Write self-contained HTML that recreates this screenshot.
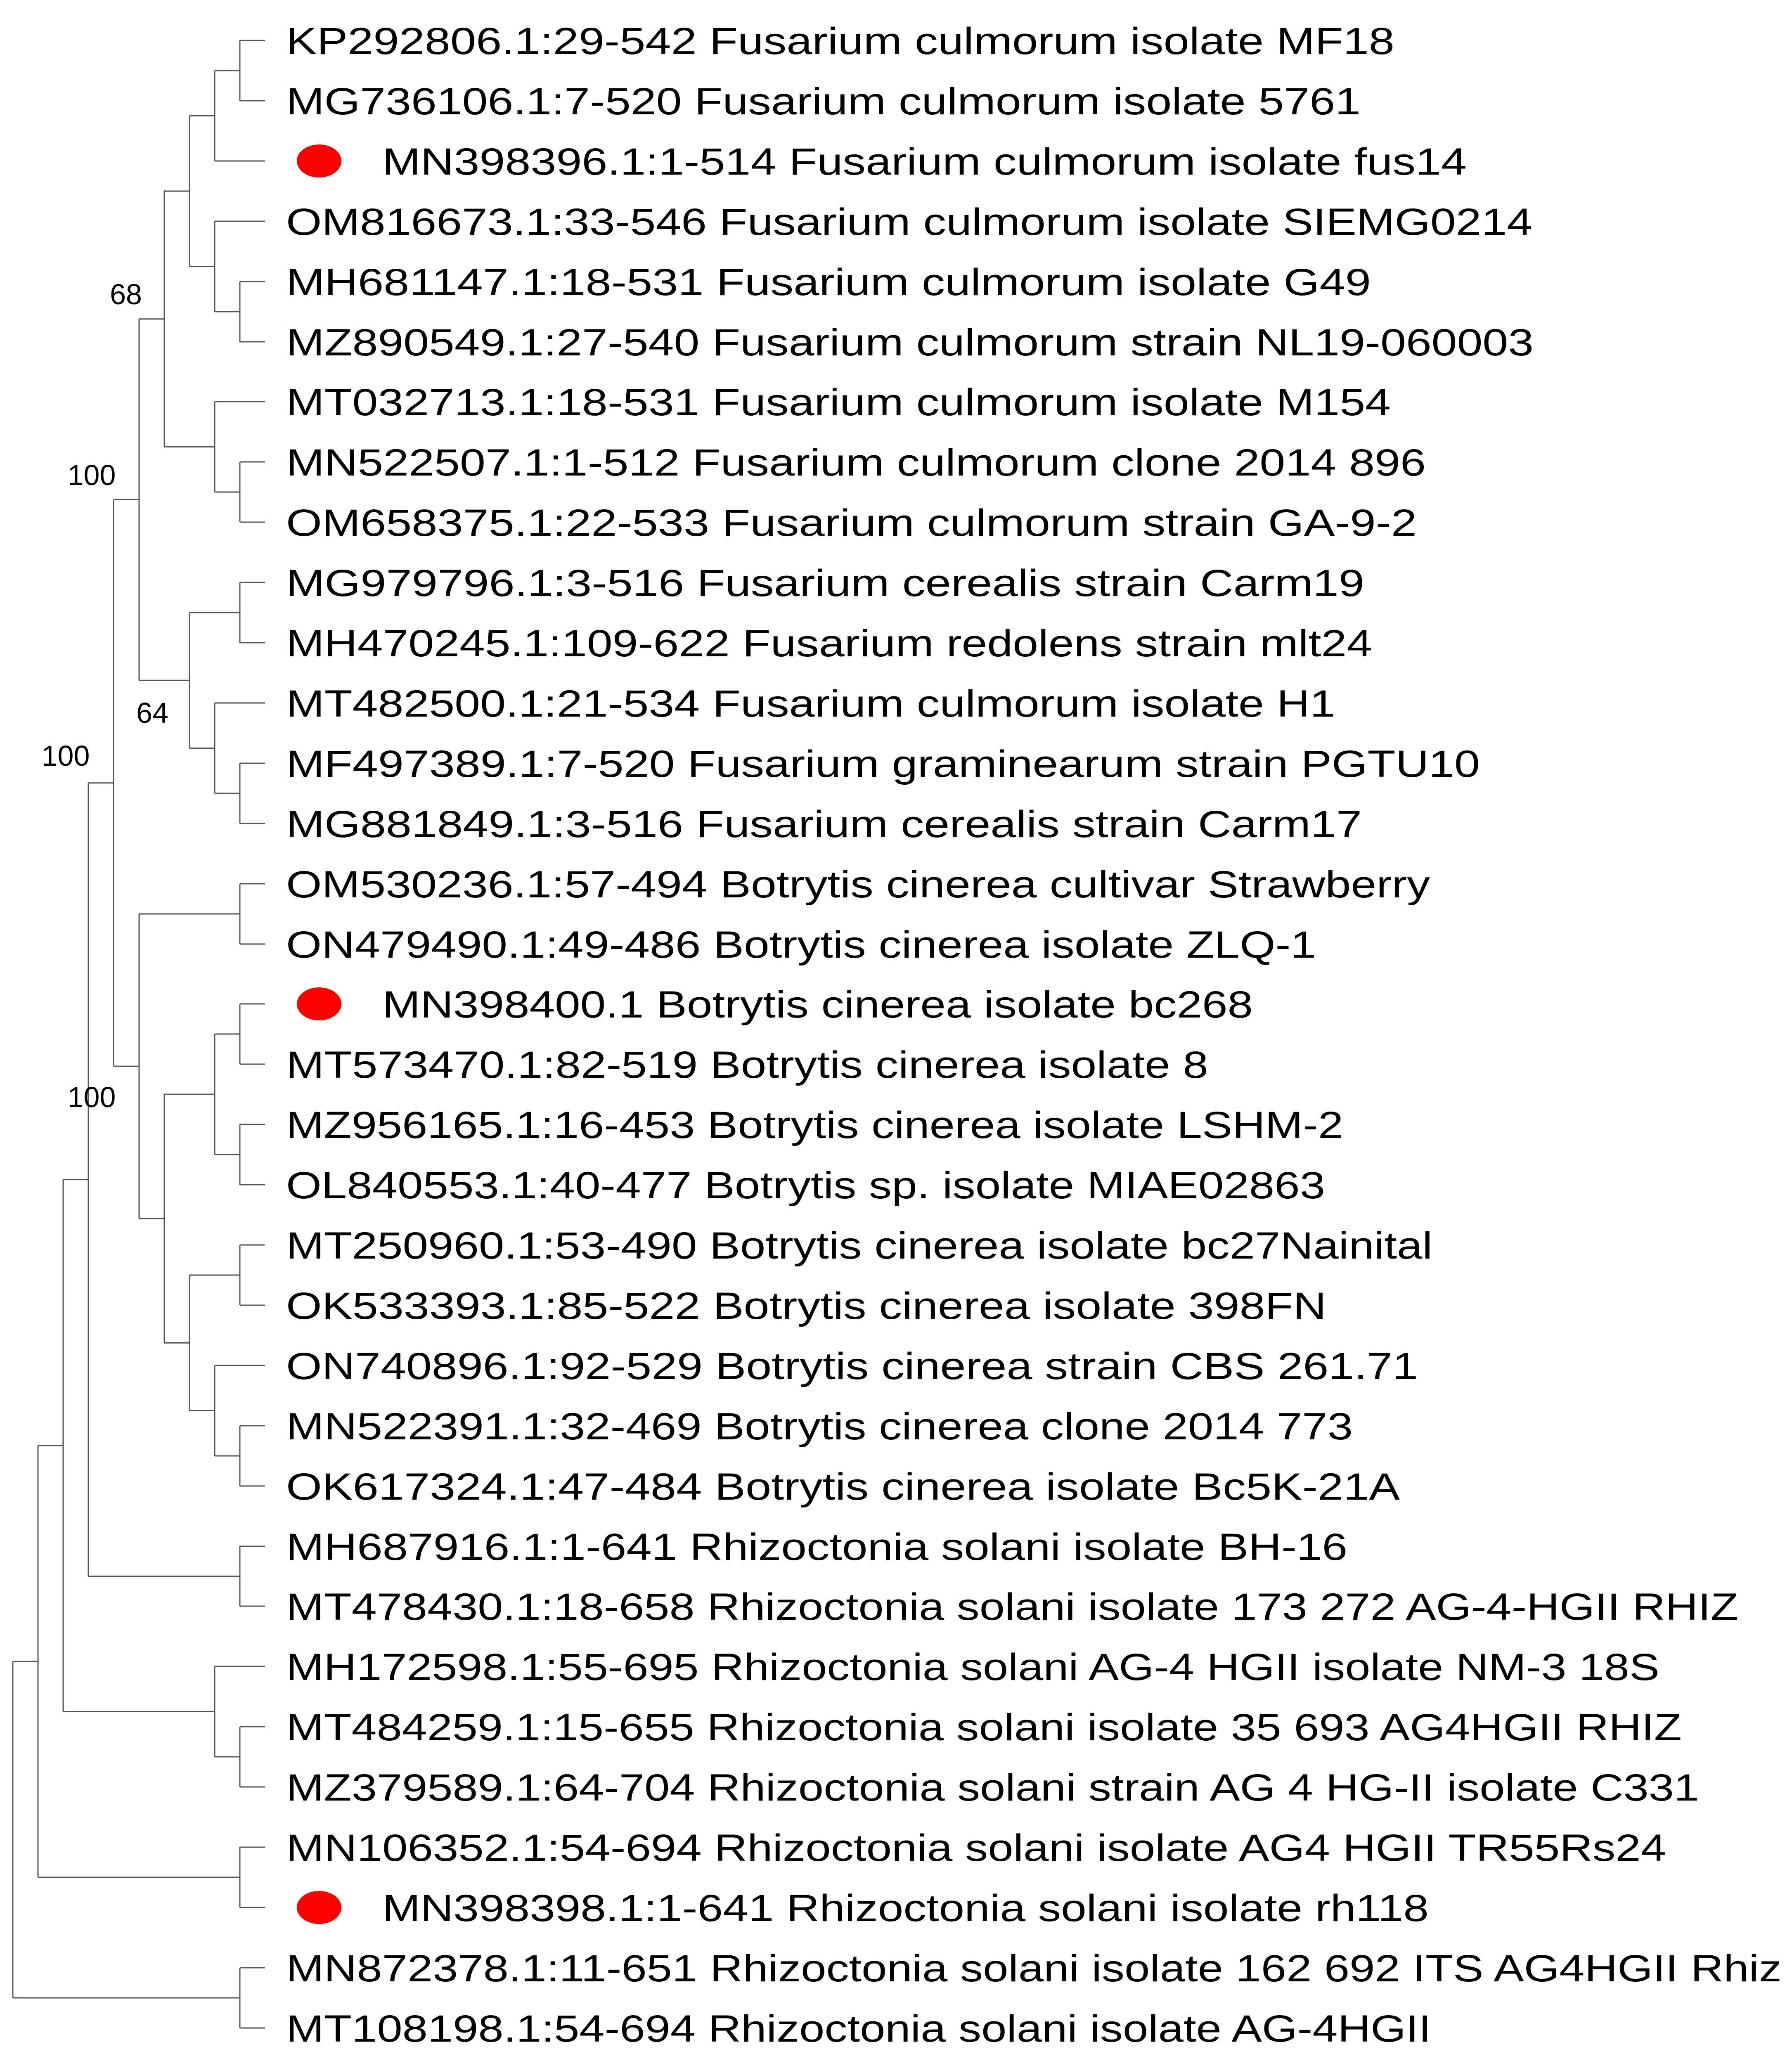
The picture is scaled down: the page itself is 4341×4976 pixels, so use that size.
<!DOCTYPE html>
<html><head><meta charset="utf-8"><style>
html,body{margin:0;padding:0;background:#fff;}
svg{display:block;}
text{font-family:"Liberation Sans",Arial,sans-serif;fill:#000;}
.l{font-size:92px;}
.b{font-size:70px;text-anchor:middle;}
line{stroke:#555;stroke-width:3;}
</style></head><body>
<svg width="4341" height="4976" viewBox="0 0 4341 4976" xmlns="http://www.w3.org/2000/svg">
<g>
<!-- A (0,1) L1 -->
<line x1="581" y1="98" x2="581" y2="244"/><line x1="581" y1="98" x2="642" y2="98"/><line x1="581" y1="244" x2="642" y2="244"/>
<!-- B (A,2) L2 -->
<line x1="520" y1="171" x2="520" y2="390"/><line x1="520" y1="171" x2="581" y2="171"/><line x1="520" y1="390" x2="642" y2="390"/>
<!-- C (4,5) L1 -->
<line x1="581" y1="682" x2="581" y2="828"/><line x1="581" y1="682" x2="642" y2="682"/><line x1="581" y1="828" x2="642" y2="828"/>
<!-- D (3,C) L2 -->
<line x1="520" y1="536" x2="520" y2="755"/><line x1="520" y1="536" x2="642" y2="536"/><line x1="520" y1="755" x2="581" y2="755"/>
<!-- E (B,D) L3 -->
<line x1="459" y1="280.5" x2="459" y2="645.5"/><line x1="459" y1="280.5" x2="520" y2="280.5"/><line x1="459" y1="645.5" x2="520" y2="645.5"/>
<!-- F (7,8) L1 -->
<line x1="581" y1="1119" x2="581" y2="1265"/><line x1="581" y1="1119" x2="642" y2="1119"/><line x1="581" y1="1265" x2="642" y2="1265"/>
<!-- G (6,F) L2 -->
<line x1="520" y1="973" x2="520" y2="1192"/><line x1="520" y1="973" x2="642" y2="973"/><line x1="520" y1="1192" x2="581" y2="1192"/>
<!-- H (E,G) L4 -->
<line x1="398" y1="463" x2="398" y2="1082.5"/><line x1="398" y1="463" x2="459" y2="463"/><line x1="398" y1="1082.5" x2="520" y2="1082.5"/>
<!-- I (9,10) L1 -->
<line x1="581" y1="1411" x2="581" y2="1557"/><line x1="581" y1="1411" x2="642" y2="1411"/><line x1="581" y1="1557" x2="642" y2="1557"/>
<!-- J (12,13) L1 -->
<line x1="581" y1="1849" x2="581" y2="1995"/><line x1="581" y1="1849" x2="642" y2="1849"/><line x1="581" y1="1995" x2="642" y2="1995"/>
<!-- K (11,J) L2 -->
<line x1="520" y1="1703" x2="520" y2="1922"/><line x1="520" y1="1703" x2="642" y2="1703"/><line x1="520" y1="1922" x2="581" y2="1922"/>
<!-- L (I,K) L3 -->
<line x1="459" y1="1484" x2="459" y2="1812.5"/><line x1="459" y1="1484" x2="581" y2="1484"/><line x1="459" y1="1812.5" x2="520" y2="1812.5"/>
<!-- M (H,L) L5 -->
<line x1="337" y1="772.75" x2="337" y2="1648.25"/><line x1="337" y1="772.75" x2="398" y2="772.75"/><line x1="337" y1="1648.25" x2="459" y2="1648.25"/>
<!-- N (14,15) L1 -->
<line x1="581" y1="2141" x2="581" y2="2287"/><line x1="581" y1="2141" x2="642" y2="2141"/><line x1="581" y1="2287" x2="642" y2="2287"/>
<!-- O (16,17) -->
<line x1="581" y1="2432" x2="581" y2="2578"/><line x1="581" y1="2432" x2="642" y2="2432"/><line x1="581" y1="2578" x2="642" y2="2578"/>
<!-- P (18,19) -->
<line x1="581" y1="2724" x2="581" y2="2870"/><line x1="581" y1="2724" x2="642" y2="2724"/><line x1="581" y1="2870" x2="642" y2="2870"/>
<!-- Q (O,P) L2 -->
<line x1="520" y1="2505" x2="520" y2="2797"/><line x1="520" y1="2505" x2="581" y2="2505"/><line x1="520" y1="2797" x2="581" y2="2797"/>
<!-- R (20,21) -->
<line x1="581" y1="3016" x2="581" y2="3162"/><line x1="581" y1="3016" x2="642" y2="3016"/><line x1="581" y1="3162" x2="642" y2="3162"/>
<!-- S (23,24) -->
<line x1="581" y1="3454" x2="581" y2="3600"/><line x1="581" y1="3454" x2="642" y2="3454"/><line x1="581" y1="3600" x2="642" y2="3600"/>
<!-- T (22,S) L2 -->
<line x1="520" y1="3308" x2="520" y2="3527"/><line x1="520" y1="3308" x2="642" y2="3308"/><line x1="520" y1="3527" x2="581" y2="3527"/>
<!-- U (R,T) L3 -->
<line x1="459" y1="3089" x2="459" y2="3417.5"/><line x1="459" y1="3089" x2="581" y2="3089"/><line x1="459" y1="3417.5" x2="520" y2="3417.5"/>
<!-- V (Q,U) L4 -->
<line x1="398" y1="2651" x2="398" y2="3253.25"/><line x1="398" y1="2651" x2="520" y2="2651"/><line x1="398" y1="3253.25" x2="459" y2="3253.25"/>
<!-- W (N,V) L5 -->
<line x1="337" y1="2214" x2="337" y2="2952.1"/><line x1="337" y1="2214" x2="581" y2="2214"/><line x1="337" y1="2952.1" x2="398" y2="2952.1"/>
<!-- X (M,W) L6 -->
<line x1="275" y1="1210.5" x2="275" y2="2583.1"/><line x1="275" y1="1210.5" x2="337" y2="1210.5"/><line x1="275" y1="2583.1" x2="337" y2="2583.1"/>
<!-- Z1 (25,26) -->
<line x1="581" y1="3746" x2="581" y2="3891"/><line x1="581" y1="3746" x2="642" y2="3746"/><line x1="581" y1="3891" x2="642" y2="3891"/>
<!-- Y (X,Z1) L7 -->
<line x1="214" y1="1896.8" x2="214" y2="3818.5"/><line x1="214" y1="1896.8" x2="275" y2="1896.8"/><line x1="214" y1="3818.5" x2="581" y2="3818.5"/>
<!-- Z2 (28,29) -->
<line x1="581" y1="4183" x2="581" y2="4329"/><line x1="581" y1="4183" x2="642" y2="4183"/><line x1="581" y1="4329" x2="642" y2="4329"/>
<!-- Z3 (27,Z2) L2 -->
<line x1="520" y1="4037" x2="520" y2="4256"/><line x1="520" y1="4037" x2="642" y2="4037"/><line x1="520" y1="4256" x2="581" y2="4256"/>
<!-- Y2 (Y,Z3) L8 -->
<line x1="153" y1="2857.6" x2="153" y2="4146.5"/><line x1="153" y1="2857.6" x2="214" y2="2857.6"/><line x1="153" y1="4146.5" x2="520" y2="4146.5"/>
<!-- Z4 (30,31) -->
<line x1="581" y1="4475" x2="581" y2="4621"/><line x1="581" y1="4475" x2="642" y2="4475"/><line x1="581" y1="4621" x2="642" y2="4621"/>
<!-- Y3 (Y2,Z4) L9 -->
<line x1="92" y1="3502" x2="92" y2="4548"/><line x1="92" y1="3502" x2="153" y2="3502"/><line x1="92" y1="4548" x2="581" y2="4548"/>
<!-- Z5 (32,33) -->
<line x1="581" y1="4767" x2="581" y2="4913"/><line x1="581" y1="4767" x2="642" y2="4767"/><line x1="581" y1="4913" x2="642" y2="4913"/>
<!-- Root L10 -->
<line x1="31" y1="4025" x2="31" y2="4840"/><line x1="31" y1="4025" x2="92" y2="4025"/><line x1="31" y1="4840" x2="581" y2="4840"/>
</g>
<!-- bootstrap -->
<text class="b" x="305" y="737">68</text>
<text class="b" x="222" y="1175">100</text>
<text class="b" x="369" y="1751">64</text>
<text class="b" x="159" y="1855">100</text>
<text class="b" x="222" y="2682">100</text>
<!-- dots -->
<ellipse cx="773" cy="390" rx="54" ry="40" fill="#ff0000"/>
<ellipse cx="773" cy="2432" rx="54" ry="40" fill="#ff0000"/>
<ellipse cx="773" cy="4621" rx="54" ry="40" fill="#ff0000"/>
<!-- leaves -->
<g class="l">
<text class="l" x="693" y="131" textLength="2685" lengthAdjust="spacingAndGlyphs">KP292806.1:29-542 Fusarium culmorum isolate MF18</text>
<text class="l" x="693" y="277" textLength="2603" lengthAdjust="spacingAndGlyphs">MG736106.1:7-520 Fusarium culmorum isolate 5761</text>
<text class="l" x="926" y="423" textLength="2627" lengthAdjust="spacingAndGlyphs">MN398396.1:1-514 Fusarium culmorum isolate fus14</text>
<text class="l" x="693" y="569" textLength="3019" lengthAdjust="spacingAndGlyphs">OM816673.1:33-546 Fusarium culmorum isolate SIEMG0214</text>
<text class="l" x="693" y="715" textLength="2628" lengthAdjust="spacingAndGlyphs">MH681147.1:18-531 Fusarium culmorum isolate G49</text>
<text class="l" x="693" y="861" textLength="3022" lengthAdjust="spacingAndGlyphs">MZ890549.1:27-540 Fusarium culmorum strain NL19-060003</text>
<text class="l" x="693" y="1006" textLength="2676" lengthAdjust="spacingAndGlyphs">MT032713.1:18-531 Fusarium culmorum isolate M154</text>
<text class="l" x="693" y="1152" textLength="2761" lengthAdjust="spacingAndGlyphs">MN522507.1:1-512 Fusarium culmorum clone 2014 896</text>
<text class="l" x="693" y="1298" textLength="2739" lengthAdjust="spacingAndGlyphs">OM658375.1:22-533 Fusarium culmorum strain GA-9-2</text>
<text class="l" x="693" y="1444" textLength="2612" lengthAdjust="spacingAndGlyphs">MG979796.1:3-516 Fusarium cerealis strain Carm19</text>
<text class="l" x="693" y="1590" textLength="2631" lengthAdjust="spacingAndGlyphs">MH470245.1:109-622 Fusarium redolens strain mlt24</text>
<text class="l" x="693" y="1736" textLength="2542" lengthAdjust="spacingAndGlyphs">MT482500.1:21-534 Fusarium culmorum isolate H1</text>
<text class="l" x="693" y="1882" textLength="2892" lengthAdjust="spacingAndGlyphs">MF497389.1:7-520 Fusarium graminearum strain PGTU10</text>
<text class="l" x="693" y="2028" textLength="2606" lengthAdjust="spacingAndGlyphs">MG881849.1:3-516 Fusarium cerealis strain Carm17</text>
<text class="l" x="693" y="2174" textLength="2771" lengthAdjust="spacingAndGlyphs">OM530236.1:57-494 Botrytis cinerea cultivar Strawberry</text>
<text class="l" x="693" y="2320" textLength="2495" lengthAdjust="spacingAndGlyphs">ON479490.1:49-486 Botrytis cinerea isolate ZLQ-1</text>
<text class="l" x="926" y="2465" textLength="2109" lengthAdjust="spacingAndGlyphs">MN398400.1 Botrytis cinerea isolate bc268</text>
<text class="l" x="693" y="2611" textLength="2234" lengthAdjust="spacingAndGlyphs">MT573470.1:82-519 Botrytis cinerea isolate 8</text>
<text class="l" x="693" y="2757" textLength="2561" lengthAdjust="spacingAndGlyphs">MZ956165.1:16-453 Botrytis cinerea isolate LSHM-2</text>
<text class="l" x="693" y="2903" textLength="2517" lengthAdjust="spacingAndGlyphs">OL840553.1:40-477 Botrytis sp. isolate MIAE02863</text>
<text class="l" x="693" y="3049" textLength="2777" lengthAdjust="spacingAndGlyphs">MT250960.1:53-490 Botrytis cinerea isolate bc27Nainital</text>
<text class="l" x="693" y="3195" textLength="2520" lengthAdjust="spacingAndGlyphs">OK533393.1:85-522 Botrytis cinerea isolate 398FN</text>
<text class="l" x="693" y="3341" textLength="2742" lengthAdjust="spacingAndGlyphs">ON740896.1:92-529 Botrytis cinerea strain CBS 261.71</text>
<text class="l" x="693" y="3487" textLength="2584" lengthAdjust="spacingAndGlyphs">MN522391.1:32-469 Botrytis cinerea clone 2014 773</text>
<text class="l" x="693" y="3633" textLength="2698" lengthAdjust="spacingAndGlyphs">OK617324.1:47-484 Botrytis cinerea isolate Bc5K-21A</text>
<text class="l" x="693" y="3779" textLength="2571" lengthAdjust="spacingAndGlyphs">MH687916.1:1-641 Rhizoctonia solani isolate BH-16</text>
<text class="l" x="693" y="3924" textLength="3518" lengthAdjust="spacingAndGlyphs">MT478430.1:18-658 Rhizoctonia solani isolate 173 272 AG-4-HGII RHIZ</text>
<text class="l" x="693" y="4070" textLength="3327" lengthAdjust="spacingAndGlyphs">MH172598.1:55-695 Rhizoctonia solani AG-4 HGII isolate NM-3 18S</text>
<text class="l" x="693" y="4216" textLength="3381" lengthAdjust="spacingAndGlyphs">MT484259.1:15-655 Rhizoctonia solani isolate 35 693 AG4HGII RHIZ</text>
<text class="l" x="693" y="4362" textLength="3423" lengthAdjust="spacingAndGlyphs">MZ379589.1:64-704 Rhizoctonia solani strain AG 4 HG-II isolate C331</text>
<text class="l" x="693" y="4508" textLength="3343" lengthAdjust="spacingAndGlyphs">MN106352.1:54-694 Rhizoctonia solani isolate AG4 HGII TR55Rs24</text>
<text class="l" x="926" y="4654" textLength="2535" lengthAdjust="spacingAndGlyphs">MN398398.1:1-641 Rhizoctonia solani isolate rh118</text>
<text class="l" x="693" y="4800" textLength="3623" lengthAdjust="spacingAndGlyphs">MN872378.1:11-651 Rhizoctonia solani isolate 162 692 ITS AG4HGII Rhiz</text>
<text class="l" x="693" y="4946" textLength="2774" lengthAdjust="spacingAndGlyphs">MT108198.1:54-694 Rhizoctonia solani isolate AG-4HGII</text>
</g>
</svg>
</body></html>
